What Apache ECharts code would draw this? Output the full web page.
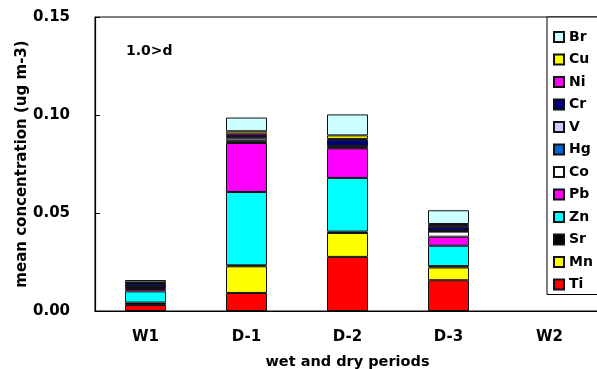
<!DOCTYPE html>
<html>
<head>
<meta charset="utf-8">
<script src="https://cdn.jsdelivr.net/npm/echarts@6/dist/echarts.min.js"></script>
<style>
  html, body { margin: 0; padding: 0; background: #fff; }
  #chart { width: 597px; height: 369px; }
</style>
</head>
<body>
<div id="chart"></div>
<script>
// Periods on the x axis
var periods = ['W1', 'D-1', 'D-2', 'D-3', 'W2'];

// Mean concentration of each element per period (ug m-3); W2 has no data
var Ti = [0.0030, 0.0092, 0.0276, 0.0157, null];
var Mn = [0.0003, 0.0136, 0.0122, 0.0065, null];
var Sr = [0.0010, 0.0005, 0.0007, 0.0007, null];
var Zn = [0.0057, 0.0374, 0.0274, 0.0104, null];
var Pb = [0.0012, 0.0250, 0.0151, 0.0046, null];
var Co = [0.0005, 0.0008, 0.0004, 0.0026, null];
var Hg = [0.0003, 0.0004, 0.0006, 0.0003, null];
var V  = [0.0003, 0.0012, 0.0003, 0.0003, null];
var Cr = [0.0015, 0.0012, 0.0030, 0.0018, null];
var Ni = [0.0005, 0.0012, 0.0005, 0.0010, null];
var Cu = [0.0003, 0.0012, 0.0018, 0.0005, null];
var Br = [0.0012, 0.0070, 0.0107, 0.0070, null];

// Y axis ticks
var yTicks = [0.00, 0.05, 0.10, 0.15];

// Stack order from the bottom up
var elements = [
  { name: 'Ti', data: Ti, color: '#FF0000' },
  { name: 'Mn', data: Mn, color: '#FFFF00' },
  { name: 'Sr', data: Sr, color: '#000000' },
  { name: 'Zn', data: Zn, color: '#00FFFF' },
  { name: 'Pb', data: Pb, color: '#FF00FF' },
  { name: 'Co', data: Co, color: '#FFFFFF' },
  { name: 'Hg', data: Hg, color: '#0066CC' },
  { name: 'V',  data: V,  color: '#CCCCFF' },
  { name: 'Cr', data: Cr, color: '#000080' },
  { name: 'Ni', data: Ni, color: '#FF00FF' },
  { name: 'Cu', data: Cu, color: '#FFFF00' },
  { name: 'Br', data: Br, color: '#CCFFFF' }
];

var FONT = 'DejaVu Sans';

var chart = echarts.init(document.getElementById('chart'), null, { renderer: 'canvas' });

var series = elements.map(function (el) {
  return {
    name: el.name,
    type: 'bar',
    stack: 'total',
    barWidth: 41,
    data: el.data,
    itemStyle: { color: el.color, borderColor: '#111', borderWidth: 1 },
    emphasis: { disabled: true },
    animation: false
  };
});

chart.setOption({
  animation: false,
  title: {
    text: '1.0>d',
    left: 126,
    top: 44,
    padding: 0,
    textStyle: { fontFamily: FONT, fontWeight: 'bold', fontSize: 14, color: '#000' }
  },
  // Vertical y-axis title, centred beside the plot
  graphic: [{
    type: 'text',
    x: 22,
    y: 164,
    rotation: Math.PI / 2,
    silent: true,
    style: {
      text: 'mean concentration (ug m-3)',
      fontFamily: FONT,
      fontWeight: 'bold',
      fontSize: 15,
      fill: '#000',
      align: 'center',
      verticalAlign: 'middle'
    }
  }],
  legend: {
    orient: 'vertical',
    left: 547,
    top: 17,
    padding: [13, 40, 3, 6],
    itemWidth: 10,
    itemHeight: 10,
    itemGap: 8.5,
    icon: 'rect',
    selectedMode: false,
    backgroundColor: '#fff',
    borderColor: '#000',
    borderWidth: 1,
    data: elements.map(function (el) { return el.name; }).reverse(),
    textStyle: { fontFamily: FONT, fontWeight: 'bold', fontSize: 14, lineHeight: 14, color: '#000' }
  },
  grid: {
    left: 95,
    top: 17,
    width: 505,
    height: 294,
    outerBoundsMode: 'none',
    containLabel: false,
    show: true,
    borderColor: '#000',
    borderWidth: 1,
    backgroundColor: 'transparent'
  },
  xAxis: {
    type: 'category',
    data: periods,
    boundaryGap: true,
    name: 'wet and dry periods',
    nameLocation: 'middle',
    nameGap: 44,
    nameTextStyle: { fontFamily: FONT, fontWeight: 'bold', fontSize: 14.5, color: '#000' },
    axisLine: { lineStyle: { color: '#000', width: 1.2 } },
    axisTick: { inside: true, length: 5, lineStyle: { color: '#000' } },
    axisLabel: { margin: 19, fontFamily: FONT, fontWeight: 'bold', fontSize: 15, color: '#000' },
    splitLine: { show: false }
  },
  yAxis: {
    type: 'value',
    min: yTicks[0],
    max: yTicks[yTicks.length - 1],
    interval: yTicks[1] - yTicks[0],
    axisLine: { show: true, lineStyle: { color: '#000', width: 1.2 } },
    axisTick: { show: true, inside: true, length: 5, lineStyle: { color: '#000' } },
    axisLabel: {
      margin: 25,
      fontFamily: FONT,
      fontWeight: 'bold',
      fontSize: 15,
      color: '#000',
      formatter: function (v) { return v.toFixed(2); }
    },
    splitLine: { show: false }
  },
  series: series
});
</script>
</body>
</html>
